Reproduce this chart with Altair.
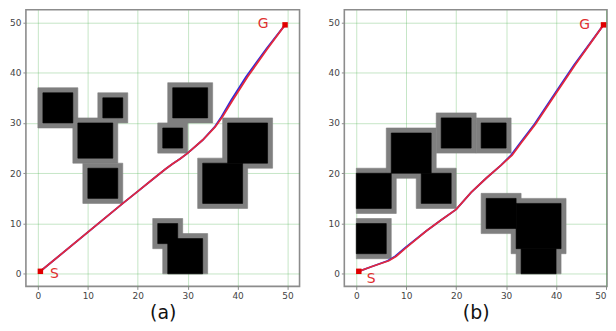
import altair as alt
import pandas as pd

# ---------------- data ----------------
ticks = [0, 10, 20, 30, 40, 50]
margin = 1  # inflated (gray) border around each obstacle

# Panel (a) obstacle cores (black)
a_x1 = [1, 13, 8, 10, 27, 25, 38, 33, 24, 26]
a_x2 = [7, 17, 15, 16, 34, 29, 46, 41, 28, 33]
a_y1 = [30, 31, 23, 15, 31, 25, 22, 14, 6, 0]
a_y2 = [36, 35, 30, 21, 37, 29, 30, 22, 10, 7]

# Panel (b) obstacle cores (black)
b_x1 = [0, 0, 7, 13, 17, 25, 26, 32, 33]
b_x2 = [6, 7, 15, 19, 23, 30, 32, 41, 40]
b_y1 = [4, 13, 20, 14, 25, 25, 9, 5, 0]
b_y2 = [10, 20, 28, 20, 31, 30, 15, 14, 5]

# Paths panel (a)
a_red_x = [0.5, 17, 20, 23, 25.5, 27, 28.5, 30, 33, 35.5, 37, 39, 42, 46, 49.5]
a_red_y = [0.5, 14, 16.4, 18.8, 20.8, 21.9, 22.9, 24, 26.6, 29.2, 31.3, 34.5, 39.2, 44.8, 49.5]
a_blue_x = [0.5, 17, 20, 23, 25.5, 27, 28.5, 30, 33, 35.4, 36.8, 38.7, 41.7, 45.8, 49.5]
a_blue_y = [0.5, 14, 16.4, 18.8, 20.8, 21.9, 22.9, 24, 26.6, 29.2, 31.3, 34.5, 39.2, 44.8, 49.5]

# Paths panel (b)
b_red_x = [0.5, 3, 6.5, 8, 10, 14, 17, 20, 23, 26, 29, 31.2, 33, 35.9, 39.8, 43.8, 49.5]
b_red_y = [0.5, 1.4, 2.6, 3.5, 5.2, 8.5, 10.7, 12.8, 16.2, 19, 21.6, 23.6, 26, 29.8, 35.6, 41.5, 49.5]
b_blue_x = [0.5, 3, 6.3, 7.8, 9.8, 14, 17, 20, 23, 26, 29, 31.0, 32.8, 35.7, 39.6, 43.6, 49.5]
b_blue_y = [0.5, 1.4, 2.6, 3.5, 5.2, 8.5, 10.7, 12.8, 16.2, 19, 21.6, 23.6, 26, 29.8, 35.6, 41.5, 49.5]

# Start / goal
start = (0.5, 0.5)
goal = (49.5, 49.5)
a_label_x = [3.3, 45.1]
a_label_y = [0.0, 49.6]
b_label_x = [3.0, 45.7]
b_label_y = [-1.0, 49.5]
labels = ["S", "G"]

RED = "#e3283c"
BLUE = "#2b2bdc"


def panel(x1, x2, y1, y2, rx, ry, bx, by, lx, ly, title, xmax, width):
    xs = alt.Scale(domain=[-2.4, xmax], nice=False, zero=False)
    ys = alt.Scale(domain=[-2.5, 52.5], nice=False, zero=False)
    xax = alt.Axis(values=ticks, title=title, grid=True, labelFlush=8)
    yax = alt.Axis(values=ticks, title=None, grid=True)

    obs = pd.DataFrame({"x1": x1, "x2": x2, "y1": y1, "y2": y2})
    gray = pd.DataFrame({
        "x1": [max(0, v - margin) for v in x1],
        "x2": [v + margin for v in x2],
        "y1": [max(0, v - margin) for v in y1],
        "y2": [v + margin for v in y2],
    })
    gray_l = alt.Chart(gray).mark_rect(color="#7f7f7f", stroke="#7f7f7f", strokeWidth=0.6).encode(
        x=alt.X("x1:Q", scale=xs, axis=xax), x2="x2",
        y=alt.Y("y1:Q", scale=ys, axis=yax), y2="y2")
    black_l = alt.Chart(obs).mark_rect(color="#000000", stroke="#000000", strokeWidth=0.6).encode(
        x=alt.X("x1:Q", scale=xs), x2="x2", y=alt.Y("y1:Q", scale=ys), y2="y2")

    blue = pd.DataFrame({"x": bx, "y": by, "i": list(range(len(bx)))})
    red = pd.DataFrame({"x": rx, "y": ry, "i": list(range(len(rx)))})
    blue_l = alt.Chart(blue).mark_line(color=BLUE, strokeWidth=1.8).encode(
        x=alt.X("x:Q", scale=xs), y=alt.Y("y:Q", scale=ys), order="i:Q")
    red_l = alt.Chart(red).mark_line(color=RED, strokeWidth=1.8).encode(
        x=alt.X("x:Q", scale=xs), y=alt.Y("y:Q", scale=ys), order="i:Q")

    pts = pd.DataFrame({"x": [start[0], goal[0]], "y": [start[1], goal[1]]})
    pts_l = alt.Chart(pts).mark_square(color="#e00000", size=30, opacity=1).encode(
        x=alt.X("x:Q", scale=xs), y=alt.Y("y:Q", scale=ys))

    txt = pd.DataFrame({"x": lx, "y": ly, "t": labels})
    txt_l = alt.Chart(txt).mark_text(color="#e03030", fontSize=14, font="DejaVu Sans",
                                     align="center", baseline="middle").encode(
        x=alt.X("x:Q", scale=xs), y=alt.Y("y:Q", scale=ys), text="t:N")

    return alt.layer(gray_l, black_l, blue_l, red_l, pts_l, txt_l).properties(
        width=width, height=278)


pa = panel(a_x1, a_x2, a_y1, a_y2, a_red_x, a_red_y, a_blue_x, a_blue_y,
           a_label_x, a_label_y, "(a)", 52.4, 275)
pb = panel(b_x1, b_x2, b_y1, b_y2, b_red_x, b_red_y, b_blue_x, b_blue_y,
           b_label_x, b_label_y, "(b)", 50.2, 264)

chart = alt.hconcat(pa, pb, spacing=26).properties(
    padding={"left": 0, "top": 0, "right": 0, "bottom": 0}
).configure_view(
    stroke="#8c8c8c", strokeWidth=1.6
).configure_axis(
    domain=False,
    gridColor="#4caf50", gridOpacity=0.32, gridWidth=1,
    tickColor="#8c8c8c", tickSize=3, tickWidth=1,
    labelFont="DejaVu Sans", labelFontSize=9, labelColor="#444444", labelPadding=2,
    titleFont="DejaVu Sans", titleFontSize=19, titleFontWeight="normal",
    titleColor="#111111", titlePadding=3,
    zindex=1,
)

chart.save("out.html", embed_options={"renderer": "svg", "actions": False})
